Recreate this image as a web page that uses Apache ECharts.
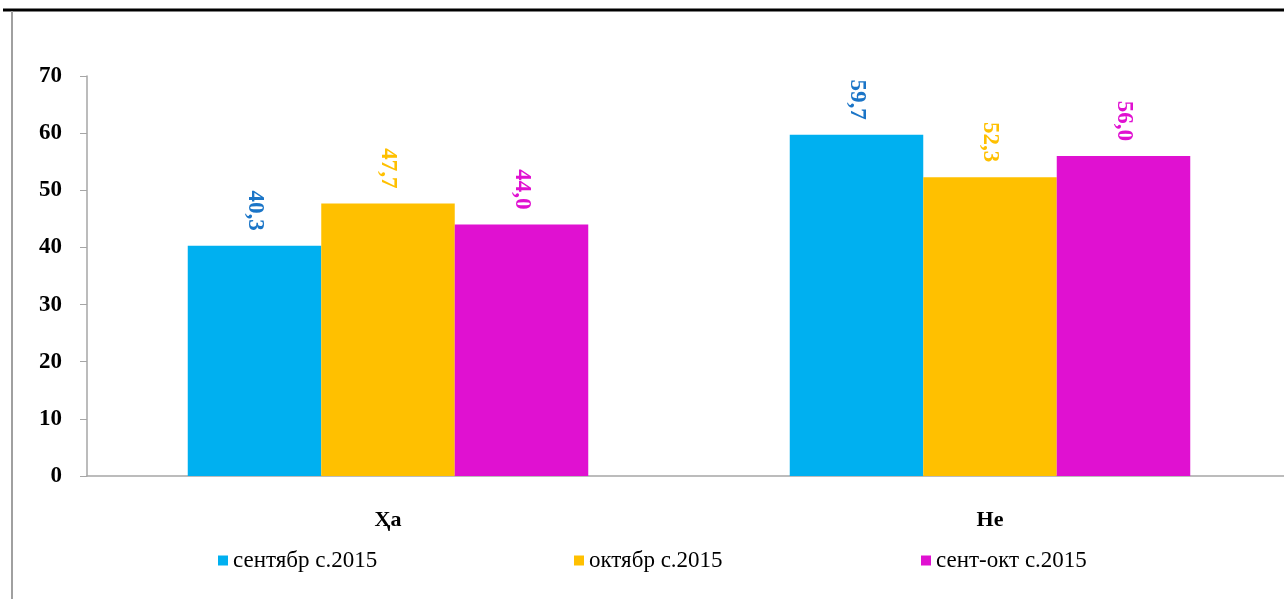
<!DOCTYPE html>
<html>
<head>
<meta charset="utf-8">
<script src="https://cdn.jsdelivr.net/npm/echarts@6/dist/echarts.min.js"></script>
<style>
  html, body { margin: 0; padding: 0; background: #fff; }
  #chart { width: 1284px; height: 599px; }
</style>
</head>
<body>
<div id="chart"></div>
<script>
// категории и значения (%)
const categories = ['Ҳа', 'Не']
const seriesNames = ['сентябр с.2015', 'октябр с.2015', 'сент-окт с.2015']
const septValues = [40.3, 59.7]
const octValues = [47.7, 52.3]
const septOctValues = [44.0, 56.0]
const yTicks = [0, 10, 20, 30, 40, 50, 60, 70]

const barColors = ['#00B0F0', '#FFC000', '#E011D1']
const labelColors = ['#1B75C7', '#FFC000', '#E011D1']
const serif = '"Liberation Serif", "DejaVu Serif", serif'

const chart = echarts.init(document.getElementById('chart'))

const makeSeries = (name, data, i) => ({
  name,
  type: 'bar',
  data,
  barWidth: 133.5,
  barGap: '0%',
  itemStyle: { color: barColors[i] },
  label: {
    show: true,
    position: 'top',
    rotate: -90,
    align: 'right',
    verticalAlign: 'middle',
    distance: 15,
    color: labelColors[i],
    fontFamily: serif,
    fontWeight: 'bold',
    fontSize: 23,
    formatter: (p) => p.value.toFixed(1).replace('.', ',')
  }
})

// три отдельные легенды, чтобы выдержать расстояния
const legends = seriesNames.map((name, i) => ({
  data: [name],
  left: [218, 574, 921][i],
  top: 549,
  padding: 0,
  icon: 'rect',
  itemWidth: 10,
  itemHeight: 10,
  itemGap: 5,
  textStyle: { fontFamily: serif, fontSize: 23, color: '#000' }
}))

const option = {
  animation: false,
  legend: legends,
  grid: { left: 87, width: 1204, top: 76, bottom: 123, outerBoundsMode: 'none' },
  xAxis: {
    type: 'category',
    data: categories,
    axisLine: { lineStyle: { color: '#A6A6A6', width: 1.5 } },
    axisTick: { length: 7, lineStyle: { color: '#A6A6A6' } },
    axisLabel: {
      margin: 33,
      color: '#000',
      fontFamily: serif,
      fontWeight: 'bold',
      fontSize: 22
    }
  },
  yAxis: {
    type: 'value',
    min: yTicks[0],
    max: yTicks[yTicks.length - 1],
    interval: 10,
    splitLine: { show: false },
    axisLine: { show: true, lineStyle: { color: '#A6A6A6', width: 1.5 } },
    axisTick: { show: true, length: 7, lineStyle: { color: '#A6A6A6' } },
    axisLabel: {
      margin: 25,
      color: '#000',
      fontFamily: serif,
      fontWeight: 'bold',
      fontSize: 23
    }
  },
  graphic: [
    { type: 'line', shape: { x1: 3, y1: 10, x2: 1284, y2: 10 }, style: { stroke: '#000', lineWidth: 3 } },
    { type: 'line', shape: { x1: 12, y1: 11, x2: 12, y2: 599 }, style: { stroke: '#A0A0A0', lineWidth: 2 } }
  ],
  series: [
    makeSeries(seriesNames[0], septValues, 0),
    makeSeries(seriesNames[1], octValues, 1),
    makeSeries(seriesNames[2], septOctValues, 2)
  ]
}

chart.setOption(option)
</script>
</body>
</html>
